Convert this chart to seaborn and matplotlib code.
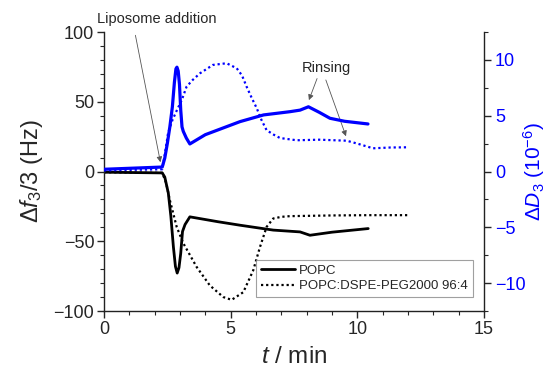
import matplotlib
matplotlib.use("Agg")
import matplotlib.pyplot as plt
import seaborn as sns
import pandas as pd

# ---- data ----
t_popc_f = [0, 2.3, 2.4, 2.54, 2.64, 2.74, 2.82, 2.89, 2.96, 3.03, 3.1, 3.2, 3.39, 4.5, 5.37, 6.68, 7.74, 8.13, 9.0, 10.43]
f_popc = [-0.5, -1, -4, -15.5, -32, -54, -68, -72.8, -69, -58.6, -43, -38, -32.5, -36, -38.5, -42, -43.3, -45.7, -43.5, -40.9]

t_peg_f = [0, 2.3, 2.45, 2.6, 2.87, 3.13, 3.66, 4.18, 4.71, 5.04, 5.5, 5.89, 6.16, 6.42, 6.68, 7.0, 7.34, 9.0, 10.5, 12.0]
f_peg = [-0.5, -1, -8, -20.5, -39.7, -51.4, -68.5, -81.7, -90, -92, -86.5, -70.9, -54, -39.7, -33.7, -32.5, -32, -31.5, -31.3, -31.3]

t_popc_d = [0, 2.3, 2.4, 2.5, 2.6, 2.7, 2.78, 2.84, 2.88, 2.93, 2.98, 3.03, 3.08, 3.13, 3.25, 3.39, 4.0, 5.37, 6.3, 7.34, 7.74, 8.07, 8.5, 8.92, 9.5, 10.42]
d_popc = [0.2, 0.4, 1.2, 2.5, 4.0, 5.8, 8.0, 9.2, 9.35, 9.0, 7.8, 5.5, 4.0, 3.6, 3.0, 2.47, 3.3, 4.47, 5.07, 5.36, 5.5, 5.8, 5.3, 4.77, 4.5, 4.26]

t_peg_d = [0, 2.3, 2.4, 2.53, 2.7, 2.9, 3.07, 3.26, 3.5, 3.79, 4.3, 4.84, 5.24, 5.45, 5.63, 5.83, 6.03, 6.22, 6.42, 6.7, 6.95, 7.6, 8.5, 9.58, 10.0, 10.62, 11.3, 12.0]
d_peg = [0.1, 0.2, 1.5, 3.45, 4.6, 5.6, 6.4, 7.6, 8.2, 8.8, 9.55, 9.7, 9.25, 8.6, 7.6, 6.6, 5.67, 4.6, 3.7, 3.3, 3.0, 2.8, 2.85, 2.76, 2.5, 2.08, 2.15, 2.17]

series_labels = ["POPC", "POPC:DSPE-PEG2000 96:4"]
x_ticks = [0, 5, 10, 15]
y_ticks = [-100, -50, 0, 50, 100]
y2_ticks = [-10, -5, 0, 5, 10]

# ---- style ----
sns.set_style("ticks")
plt.rcParams["font.family"] = ["Liberation Sans", "DejaVu Sans"]
plt.rcParams["mathtext.fontset"] = "custom"
plt.rcParams["mathtext.rm"] = "Liberation Sans"
plt.rcParams["mathtext.it"] = "Liberation Sans:italic"
plt.rcParams["mathtext.bf"] = "Liberation Sans:bold"

BLUE = "#0000ff"
dotted = (0, (1, 1.3))

fig = plt.figure(figsize=(5.51, 3.73), dpi=100)
ax = fig.add_axes([0.1887, 0.1662, 0.6897, 0.748])
ax2 = ax.twinx()

sns.lineplot(x=t_popc_f, y=f_popc, ax=ax, color="black", lw=2.0, label=series_labels[0],
             estimator=None, sort=False)
sns.lineplot(x=t_peg_f, y=f_peg, ax=ax, color="black", lw=1.6, linestyle=dotted,
             label=series_labels[1], estimator=None, sort=False)
sns.lineplot(x=t_popc_d, y=d_popc, ax=ax2, color=BLUE, lw=2.3, legend=False,
             estimator=None, sort=False)
sns.lineplot(x=t_peg_d, y=d_peg, ax=ax2, color=BLUE, lw=1.6, linestyle=dotted, legend=False,
             estimator=None, sort=False)

ax.set_xlim(0, 15)
ax.set_ylim(-100, 100)
ax2.set_ylim(-12.5, 12.5)
ax.set_xticks(x_ticks)
ax.set_yticks(y_ticks)
ax2.set_yticks(y2_ticks)
ax.set_xticks([i for i in range(0, 16)], minor=True)
ax.set_yticks([i for i in range(-100, 101, 10)], minor=True)
ax2.set_yticks([i * 2.5 for i in range(-5, 6)], minor=True)

for a in (ax, ax2):
    a.spines["top"].set_visible(False)
    for s in a.spines.values():
        s.set_linewidth(1.0)
        s.set_color("#222222")
ax2.spines["left"].set_visible(False)
ax2.spines["bottom"].set_visible(False)
ax.spines["right"].set_visible(False)

ax.tick_params(axis="both", which="major", direction="out", length=5, width=1, labelsize=13, pad=2)
ax.tick_params(axis="both", which="minor", direction="out", length=3, width=0.8)
ax2.tick_params(axis="y", which="major", direction="out", length=5, width=1, labelsize=13,
                labelcolor=BLUE, pad=3)
ax2.tick_params(axis="y", which="minor", direction="out", length=3, width=0.8)
ax.set_yticklabels([str(v).replace("-", "\u2212") for v in y_ticks])
ax2.set_yticklabels([str(v).replace("-", "\u2212") for v in y2_ticks])

ax.set_xlabel("$t$ / min", fontsize=17.5, labelpad=6)
ax.set_ylabel("$\\Delta f_3/3$ (Hz)", fontsize=17, labelpad=6)
ax2.set_ylabel("$\\Delta D_3$ (10$^{-6}$)", fontsize=15, color=BLUE, labelpad=-3)

leg = ax.legend(loc="lower right", bbox_to_anchor=(0.97, 0.05), fontsize=9.5, frameon=True,
                fancybox=False, edgecolor="#888888", handlelength=2.6, borderpad=0.35,
                labelspacing=0.25, handletextpad=0.3, borderaxespad=0)
leg.get_frame().set_linewidth(0.8)

# annotations
arrow_kw = dict(arrowstyle="-|>", color="#555555", lw=0.6, mutation_scale=8)
ax.text(2.1, 109, "Liposome addition", fontsize=10.5, ha="center", va="center", clip_on=False)
ax.annotate("", xy=(2.25, 4.7), xytext=(1.22, 99.6), arrowprops=arrow_kw, annotation_clip=False)
ax.text(8.76, 74, "Rinsing", fontsize=10.5, ha="center", va="center")
ax.annotate("", xy=(8.05, 49.3), xytext=(8.45, 68.5), arrowprops=arrow_kw)
ax.annotate("", xy=(9.59, 23.4), xytext=(8.72, 67.5), arrowprops=arrow_kw)

fig.savefig("out.png", dpi=100)
